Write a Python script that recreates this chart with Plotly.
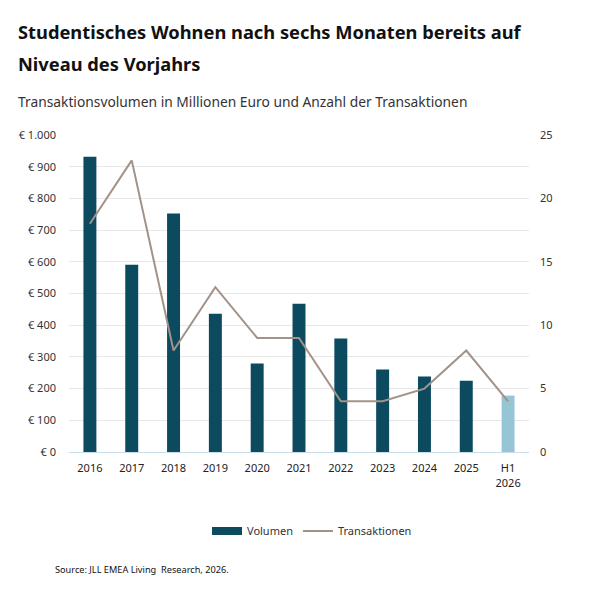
import plotly.graph_objects as go

categories = ["2016", "2017", "2018", "2019", "2020", "2021", "2022", "2023", "2024", "2025", "H1<br>2026"]
volumen = [931, 591, 752, 436, 279, 468, 358, 260, 238, 225, 178]
transaktionen = [18, 23, 8, 13, 9, 9, 4, 4, 5, 8, 4]
left_tick_vals = [0, 100, 200, 300, 400, 500, 600, 700, 800, 900, 1000]
left_tick_text = ["€ 0", "€ 100", "€ 200", "€ 300", "€ 400", "€ 500", "€ 600", "€ 700", "€ 800", "€ 900", "€ 1.000"]
right_tick_vals = [0, 5, 10, 15, 20, 25]

DARK = "#0B4A5F"
LIGHT = "#96C5D6"
LINE = "#A39288"
FONT = "Noto Sans"

# page is drawn with an 8px body offset
OFF = 8
W, H = 590 - OFF, 601 - OFF
pl, pr, pt, pb = 69 - OFF, 61, 135 - OFF, 149
pw, ph = W - pl - pr, H - pt - pb


def px(xp):
    return (xp - OFF - pl) / pw


def py(yp):
    return (H - pb - (yp - OFF)) / ph


bar_colors = [DARK] * (len(categories) - 1) + [LIGHT]

fig = go.Figure()
fig.add_trace(go.Bar(
    x=categories, y=volumen, name="Volumen",
    marker=dict(color=bar_colors, line=dict(width=0)),
    yaxis="y", showlegend=False,
))
# legend entry with a wide rectangular swatch for the bars
fig.add_trace(go.Scatter(
    x=[None], y=[None], name="Volumen", mode="lines",
    line=dict(color=DARK, width=8), yaxis="y", showlegend=True,
))
fig.add_trace(go.Scatter(
    x=categories, y=transaktionen, name="Transaktionen",
    mode="lines", line=dict(color=LINE, width=2),
    yaxis="y2",
))

fig.update_layout(
    width=W, height=H,
    margin=dict(l=pl, r=pr, t=pt, b=pb),
    paper_bgcolor="white", plot_bgcolor="white",
    font=dict(family=FONT, size=11, color="#333333"),
    bargap=0.69,
    showlegend=True,
    legend=dict(
        orientation="h", x=px(312), xanchor="center", y=py(531), yanchor="middle",
        font=dict(size=11, color="#333333"), itemwidth=30,
        traceorder="normal",
    ),
    xaxis=dict(
        type="category", showgrid=False, showline=True, linecolor="#C9DCE9", linewidth=1,
        ticks="", tickfont=dict(size=11, color="#222222"), ticklabelstandoff=6,
    ),
    yaxis=dict(
        range=[0, 1000], tickvals=left_tick_vals, ticktext=left_tick_text,
        showgrid=True, gridcolor="#E8E8E8", gridwidth=1, zeroline=False,
        showline=False, ticks="", tickfont=dict(size=11, color="#333333"),
        ticklabelstandoff=12,
    ),
    yaxis2=dict(
        range=[0, 25], tickvals=right_tick_vals, overlaying="y", side="right",
        showgrid=False, zeroline=False, showline=False, ticks="",
        tickfont=dict(size=11, color="#333333"), ticklabelstandoff=10,
    ),
)

fig.add_annotation(text="<b>Studentisches Wohnen nach sechs Monaten bereits auf</b>",
                   x=px(16), y=py(31), xref="paper", yref="paper", xanchor="left", yanchor="middle",
                   showarrow=False, font=dict(family=FONT, size=18.3, color="#111111"))
fig.add_annotation(text="<b>Niveau des Vorjahrs</b>",
                   x=px(16), y=py(63), xref="paper", yref="paper", xanchor="left", yanchor="middle",
                   showarrow=False, font=dict(family=FONT, size=18.3, color="#111111"))
fig.add_annotation(text="Transaktionsvolumen in Millionen Euro und Anzahl der Transaktionen",
                   x=px(16), y=py(101), xref="paper", yref="paper", xanchor="left", yanchor="middle",
                   showarrow=False, font=dict(family=FONT, size=13.8, color="#333333"))
fig.add_annotation(text="Source: JLL EMEA Living  Research, 2026.",
                   x=px(53), y=py(569), xref="paper", yref="paper", xanchor="left", yanchor="middle",
                   showarrow=False, font=dict(family=FONT, size=9.2, color="#111111"))

fig.write_html("out.html")
